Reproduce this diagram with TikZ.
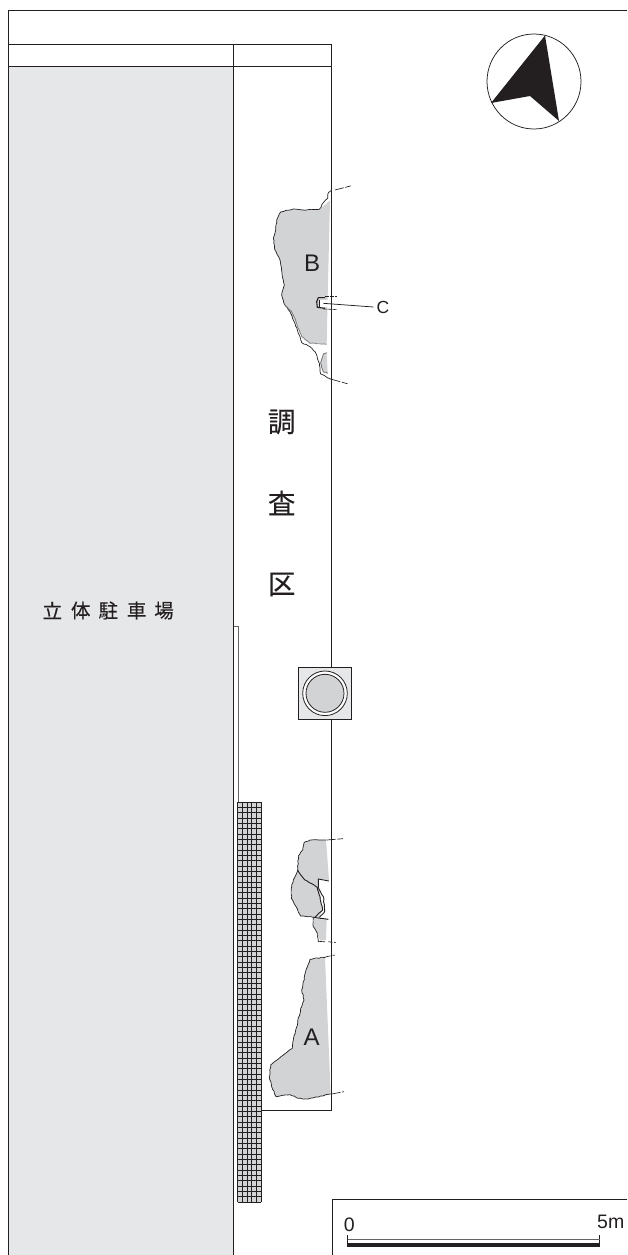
\documentclass[tikz,border=0pt]{standalone}
\usepackage{fontspec}
\usetikzlibrary{decorations.pathmorphing}
\setmainfont{Liberation Sans}
\newfontfamily\jpfont[FakeBold=0.25]{Noto Sans CJK JP}
\definecolor{lightg}{HTML}{E6E7E8}
\definecolor{midg}{HTML}{D1D3D4}
\definecolor{ink}{HTML}{231F20}
\tikzset{
  frame/.style={draw=ink,line width=0.9pt},
  leader/.style={draw=ink,line width=0.75pt},
  edge/.style={draw=ink,line width=0.7pt,line join=round,decorate,decoration={random steps,segment length=2.5pt,amplitude=0.45pt}},
  pit/.style={fill=midg,draw=none},
  ext/.style={draw=ink,line width=0.65pt,dash pattern=on 9pt off 1.5pt on 6pt off 1.5pt},
  zoomb/.style={shift={(260,170)},x=0.33333pt,y=-0.33333pt},
  zooma/.style={shift={(230,950)},x=0.33333pt,y=-0.33333pt},
  zoomm/.style={shift={(230,830)},x=0.33333pt,y=-0.33333pt},
  lab/.style={font=\fontsize{24}{24}\selectfont,text=ink,inner sep=0pt},
  small/.style={font=\fontsize{17.5}{17.5}\selectfont,text=ink,inner sep=0pt},
  scalelab/.style={font=\fontsize{19.5}{19.5}\selectfont,text=ink,inner sep=0pt},
  park/.style={font=\jpfont\fontsize{19.5}{19.5}\selectfont,text=ink,inner sep=0pt},
  area/.style={font=\jpfont\fontsize{27.5}{27.5}\selectfont,text=ink,inner sep=0pt}
}
\begin{document}
\begin{tikzpicture}[x=1pt,y=-1pt]
\useasboundingbox (0,0) rectangle (627,1255);
% parking block
\fill[lightg] (8.5,66.5) rectangle (233.5,1255);
% frame
\draw[frame] (627,10.5) -- (8.5,10.5) -- (8.5,1255);
\draw[frame] (8.5,44) -- (332,44);
\draw[frame] (8.5,66.5) -- (332,66.5);
\draw[frame] (233.5,44) -- (233.5,1255);
\draw[frame] (331.5,44) -- (331.5,1111);
% narrow strip
\draw[frame,draw=ink!70] (233.5,626) -- (238,626) -- (238,802);
% mesh
\fill[midg] (237.5,802) rectangle (261,1202);
\foreach \i in {0,...,75} \draw[ink,line width=0.6pt] (237.5,{802+\i*5.333}) -- (261,{802+\i*5.333});
\foreach \i in {0,...,5} \draw[ink,line width=0.6pt] ({237.5+\i*4.7},802) -- ({237.5+\i*4.7},1202);
\draw[frame] (261,1110.7) -- (331.5,1110.7);
% north arrow
\draw[ink,line width=0.75pt,fill=white] (534,81.5) ellipse [x radius=47,y radius=47.5];
\fill[ink] (545,35.5) -- (491,103) -- (530,96) -- (559,121) -- cycle;
% manhole
\draw[frame,fill=lightg] (298.7,667) rectangle (351.7,719.7);
\draw[ink,line width=0.8pt,fill=white] (325,693.3) circle (22.3);
\draw[ink,line width=0.8pt,fill=midg] (325,693.3) circle (19);
% area B
\begin{scope}[zoomb]
\fill[pit] (210,92) -- (178,118) -- (140,120) -- (100,117) -- (62,126) -- (50,150) -- (47,180) -- (40,205) -- (45,240) -- (60,270) -- (66,310) -- (73,345) -- (65,375) -- (72,400) -- (90,425) -- (108,460) -- (125,500) -- (150,520) -- (200,523) -- (203,380) -- cycle;
\fill[pit] (190,550) -- (200,548) -- (203,610) -- (190,605) -- (180,580) -- cycle;
\draw[edge] (213,62) -- (205,68) -- (203,85) -- (190,98) -- (178,118) -- (140,120) -- (100,117) -- (62,126) -- (50,150) -- (47,180) -- (40,205) -- (45,240) -- (60,270) -- (66,310) -- (73,345) -- (65,375) -- (72,400) -- (90,425) -- (105,460) -- (120,500) -- (125,518) -- (150,530) -- (165,545) -- (178,580) -- (182,612) -- (214,628);
\draw[edge,draw=ink!60] (72,400) -- (95,425) -- (110,460) -- (125,500) -- (150,520) -- (200,523);
\draw[edge,draw=ink!70] (200,548) -- (190,552) -- (182,578) -- (190,606) -- (203,610);
\fill[white] (178,390) rectangle (205,412);
\draw[leader,line width=1.1pt] (195,383) -- (175,383) -- (170,395) -- (172,412) -- (195,415);
\draw[leader] (178,390) -- (178,410);
\draw[ext,dash pattern=on 4pt off 1pt] (195,380) -- (230,380);
\draw[ext,dash pattern=on 4pt off 1pt] (190,417) -- (230,419);
\draw[ext] (225,60) -- (275,47);
\draw[ext] (215,628) -- (265,642);
\coordinate (cend) at (190,400);
\end{scope}
\node[small] (clab) at (383,307) {C};
\draw[leader] (clab.west) ++(-3,0) coordinate (cq) -- (cend);
\node[lab] (blab) at (312,263) {B};
% middle pieces
\begin{scope}[zoomm]
\fill[pit] (288,30) -- (240,30) -- (222,38) -- (218,60) -- (205,78) -- (203,120) -- (190,150) -- (185,170) -- (184,205) -- (195,225) -- (212,258) -- (250,262) -- (265,262) -- (278,240) -- (268,175) -- (265,147) -- (297,150) -- cycle;
\fill[pit] (252,265) -- (290,270) -- (288,330) -- (270,332) -- (262,310) -- (250,290) -- cycle;
\draw[edge] (288,30) -- (240,30) -- (222,38) -- (218,60) -- (205,78) -- (203,120) -- (190,150) -- (185,170) -- (184,205) -- (195,225) -- (212,258) -- (250,262) -- (250,290) -- (262,310) -- (265,335) -- (285,335);
\draw[edge,line width=0.9pt] (203,120) -- (225,150) -- (262,172) -- (270,200) -- (278,240) -- (255,262);
\draw[leader,line width=0.9pt] (297,153) -- (265,147) -- (265,172);
\draw[edge,line width=0.9pt] (265,172) -- (280,200) -- (284,245) -- (268,262);
\draw[leader,line width=1pt] (250,262) -- (295,268);
\draw[ext] (290,30) -- (340,26);
\draw[ext,dash pattern=on 4pt off 2pt] (295,335) -- (318,338);
\end{scope}
% area A
\begin{scope}[zooma]
\fill[pit] (285,22) -- (240,28) -- (228,60) -- (215,120) -- (222,150) -- (212,175) -- (203,220) -- (190,270) -- (187,295) -- (160,315) -- (122,345) -- (118,380) -- (125,410) -- (138,440) -- (180,434) -- (205,445) -- (235,447) -- (302,432) -- cycle;
\draw[edge] (290,20) -- (240,28) -- (228,60) -- (215,120) -- (222,150) -- (212,175) -- (203,220) -- (190,270) -- (187,295) -- (160,315) -- (122,345) -- (118,380) -- (125,410) -- (138,440) -- (180,434) -- (205,445) -- (235,447) -- (302,432);
\draw[ext,dash pattern=on 4pt off 2pt] (290,20) -- (315,15);
\draw[ext] (305,432) -- (342,425);
\end{scope}
\node[lab] (alab) at (311.7,1037) {A};
% labels
\node[park] (p1) at (52.3,610.5) {立};
\node[park] (p2) at (80.7,610.5) {体};
\node[park] (p3) at (108.3,610.5) {駐};
\node[park] (p4) at (136.7,610.5) {車};
\node[park] (p5) at (164,610.5) {場};
\node[area] (s1) at (281.7,422) {調};
\node[area] (s2) at (281.7,503) {査};
\node[area] (s3) at (281.7,584.5) {区};
% scale
\draw[frame] (627,1199.3) -- (332.7,1199.3) -- (332.7,1255);
\node[scalelab] (z) at (349.3,1225) {0};
\node[scalelab] (f) at (610.7,1221.5) {5m};
\draw[ink,line width=0.8pt] (347.5,1235) -- (347.5,1246);
\draw[ink,line width=0.8pt] (599.7,1235) -- (599.7,1246);
\draw[ink!70,line width=1pt] (347.5,1239) -- (599.7,1239);
\fill[ink] (347.3,1242.7) rectangle (600,1246.7);
\end{tikzpicture}
\end{document}
